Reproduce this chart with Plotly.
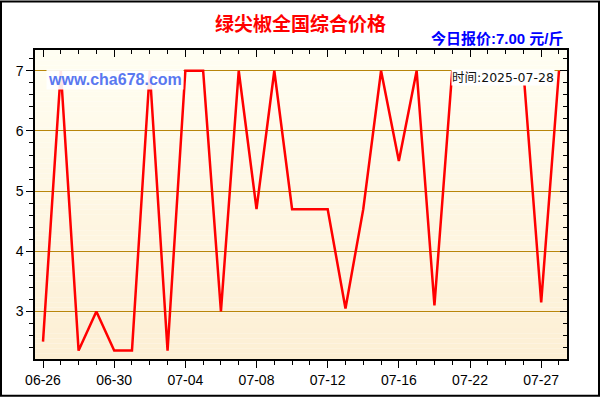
import plotly.graph_objects as go

dates = ["06-26", "06-27", "06-28", "06-29", "06-30", "07-01", "07-02", "07-03",
         "07-04", "07-05", "07-06", "07-07", "07-08", "07-09", "07-10", "07-11",
         "07-12", "07-13", "07-14", "07-15", "07-16", "07-17", "07-18", "07-20",
         "07-22", "07-23", "07-24", "07-26", "07-27", "07-28"]
prices = [2.5, 7.0, 2.35, 3.0, 2.35, 2.35, 7.0, 2.35,
          7.0, 7.0, 3.0, 7.0, 4.7, 7.0, 4.7, 4.7,
          4.7, 3.05, 4.7, 7.0, 5.5, 7.0, 3.1, 7.0,
          None, None, None, 7.0, 3.15, 7.0]
title_text = "绿尖椒全国综合价格"
quote_text = "今日报价:7.00 元/斤"
site_text = "www.cha678.com"
time_text = "时间:2025-07-28"

xs = list(range(len(dates)))
tickvals = xs[::4]
ticktext = dates[::4]

W, H = 600, 400
ML, MR, MT, MB = 35, 33, 50, 38
PW, PH = W - ML - MR, H - MT - MB

def px(x):
    return (x - ML) / PW

def py(y):
    return (H - MB - y) / PH

XR = [-0.45, 29.45]
YR = [2.21, 7.345]
font = "Liberation Sans, Arial, Noto Sans CJK SC"

fig = go.Figure()
fig.add_trace(go.Scatter(x=xs, y=prices, mode="lines", connectgaps=False,
                         line=dict(color="#ff0000", width=2.5), hoverinfo="skip",
                         showlegend=False))
fig.add_trace(go.Scatter(x=[xs[0]], y=[prices[0]], xaxis="x2", yaxis="y2",
                         mode="markers", marker=dict(opacity=0), showlegend=False,
                         hoverinfo="skip"))

# gradient background
n = 60
top = (255, 254, 242)
bot = (253, 239, 212)
shapes = []
for i in range(n):
    t = i / (n - 1)
    c = tuple(round(top[k] + (bot[k] - top[k]) * t) for k in range(3))
    shapes.append(dict(type="rect", xref="x domain", yref="y domain",
                       x0=0, x1=1, y0=1 - (i + 1) / n, y1=1 - i / n,
                       fillcolor="rgb(%d,%d,%d)" % c, line=dict(width=0), layer="below"))
shapes.append(dict(type="rect", xref="paper", yref="paper",
                   x0=px(1), x1=px(599), y0=py(399), y1=py(1),
                   line=dict(color="black", width=2), fillcolor="rgba(0,0,0,0)", layer="above"))
fig.update_layout(shapes=shapes)

fig.update_layout(
    width=W, height=H, margin=dict(l=ML, r=MR, t=MT, b=MB, pad=0),
    paper_bgcolor="white", plot_bgcolor="white",
    font=dict(family=font, color="black", size=14),
    xaxis=dict(range=XR, tickmode="array", tickvals=tickvals, ticktext=ticktext,
               ticks="outside", ticklen=7, tickcolor="black", showgrid=False,
               zeroline=False, showline=True, linecolor="black", linewidth=1.5,
               mirror=True, tickfont=dict(size=14),
               minor=dict(tickmode="linear", tick0=0, dtick=1, ticks="outside",
                          ticklen=4, tickcolor="black", showgrid=False)),
    yaxis=dict(range=YR, tickmode="linear", tick0=0, dtick=1, ticks="outside",
               ticklen=7, tickcolor="black", showgrid=True, gridcolor="#b8860b",
               gridwidth=1, zeroline=False, showline=True, linecolor="black",
               linewidth=1.5, mirror=True, tickfont=dict(size=14),
               minor=dict(tickmode="linear", tick0=0, dtick=0.2, ticks="outside",
                          ticklen=4, tickcolor="black", showgrid=False)),
    xaxis2=dict(range=XR, overlaying="x", side="top", anchor="y", tickmode="array",
                tickvals=tickvals, ticks="inside", ticklen=7, tickcolor="black",
                showticklabels=False, showgrid=False, zeroline=False,
                minor=dict(tickmode="linear", tick0=0, dtick=1, ticks="inside",
                           ticklen=4, tickcolor="black", showgrid=False)),
    yaxis2=dict(range=YR, overlaying="y", side="right", anchor="x", tickmode="linear",
                tick0=0, dtick=1, ticks="inside", ticklen=7, tickcolor="black",
                showticklabels=False, showgrid=False, zeroline=False,
                minor=dict(tickmode="linear", tick0=0, dtick=0.2, ticks="inside",
                           ticklen=4, tickcolor="black", showgrid=False)),
    showlegend=False,
)

fig.add_annotation(text="<b>%s</b>" % title_text, xref="paper", yref="paper",
                   x=px(300), y=py(22), xanchor="center", yanchor="middle",
                   showarrow=False, font=dict(size=19, color="#ff0000",
                                              family="Noto Sans CJK SC"))
fig.add_annotation(text="<b>%s</b>" % quote_text, xref="paper", yref="paper",
                   x=px(566), y=py(38), xanchor="right", yanchor="middle",
                   showarrow=False, font=dict(size=15, color="#0000ff",
                                              family="Liberation Sans, Noto Sans CJK SC"))
fig.add_annotation(text="<b>%s</b>" % site_text, xref="paper", yref="paper",
                   x=px(115), y=py(80), xanchor="center", yanchor="middle",
                   showarrow=False, bgcolor="rgba(255,255,255,0.9)", borderpad=1,
                   font=dict(size=16, color="#5a78f0", family="Liberation Sans, Arial"))
fig.add_annotation(text=time_text, xref="paper", yref="paper",
                   x=px(451), y=py(78), xanchor="left", yanchor="middle",
                   showarrow=False, bgcolor="white", borderpad=0,
                   font=dict(size=12.5, color="#111111",
                             family="DejaVu Sans, Noto Sans CJK SC"))

fig.write_html("out.html", config={"displayModeBar": False},
               post_script="document.body.style.margin='0';document.body.style.overflow='hidden';")
